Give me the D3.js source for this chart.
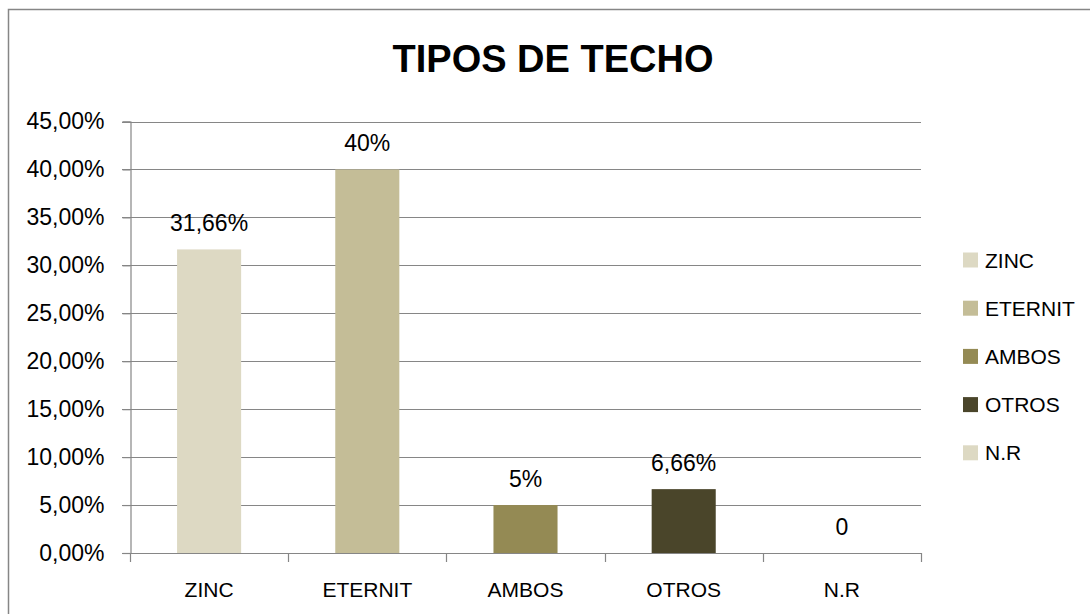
<!DOCTYPE html>
<html>
<head>
<meta charset="utf-8">
<script src="https://cdn.jsdelivr.net/npm/d3@7"></script>
<style>
  html, body { margin: 0; padding: 0; background: #fff; }
  svg { display: block; }
  text { font-family: "Liberation Sans", Arial, sans-serif; fill: #000; }
</style>
</head>
<body>
<div id="chart"></div>
<script>
// datos del gráfico
const categories = ["ZINC", "ETERNIT", "AMBOS", "OTROS", "N.R"];
const values = [0.3166, 0.40, 0.05, 0.0666, 0];
const valueLabels = ["31,66%", "40%", "5%", "6,66%", "0"];
const colors = ["#DDD9C3", "#C4BD97", "#948A54", "#4A452A", "#DDD9C3"];
const yTicks = [0, 0.05, 0.10, 0.15, 0.20, 0.25, 0.30, 0.35, 0.40, 0.45];

const width = 1090, height = 614;
const plot = {left: 130, right: 921, top: 121.5, bottom: 553};

const svg = d3.select("#chart").append("svg")
  .attr("width", width)
  .attr("height", height);

// marco exterior
svg.append("rect")
  .attr("x", 8.5).attr("y", 9.5)
  .attr("width", 1200).attr("height", 800)
  .attr("fill", "none")
  .attr("stroke", "#868686")
  .attr("stroke-width", 1.5);

// título
svg.append("text")
  .attr("x", 553).attr("y", 72)
  .attr("text-anchor", "middle")
  .attr("font-size", 38)
  .attr("font-weight", "bold")
  .text("TIPOS DE TECHO");

const locale = d3.formatLocale({decimal: ",", thousands: ".", grouping: [3], currency: ["", "€"]});
const fmt = locale.format(".2%");

const y = d3.scaleLinear().domain([0, 0.45]).range([plot.bottom, plot.top]);
const x = d3.scaleBand().domain(categories).range([plot.left, plot.right])
  .paddingInner(0.595).paddingOuter(0.2975);
const xb = d3.scaleBand().domain(categories).range([plot.left, plot.right]);

// líneas de cuadrícula
svg.append("g")
  .selectAll("line")
  .data(yTicks.slice(1))
  .join("line")
  .attr("x1", plot.left - 8).attr("x2", plot.right)
  .attr("y1", d => Math.round(y(d)) + 0.5).attr("y2", d => Math.round(y(d)) + 0.5)
  .attr("stroke", "#868686").attr("stroke-width", 1.2);

// barras
svg.append("g")
  .selectAll("rect")
  .data(categories)
  .join("rect")
  .attr("x", d => x(d))
  .attr("width", x.bandwidth())
  .attr("y", (d, i) => y(values[i]))
  .attr("height", (d, i) => y(0) - y(values[i]))
  .attr("fill", (d, i) => colors[i]);

// eje Y
const yAxis = svg.append("g")
  .attr("transform", `translate(${plot.left + 0.5},0)`)
  .call(d3.axisLeft(y).tickValues(yTicks).tickFormat(fmt).tickSize(8).tickPadding(18));
yAxis.select(".domain").attr("stroke", "#868686").attr("stroke-width", 1.2);
yAxis.selectAll(".tick line").attr("stroke", "#868686").attr("stroke-width", 1.2);
yAxis.selectAll(".tick text")
  .attr("font-size", 23)
  .attr("font-family", "'Liberation Sans', Arial, sans-serif")
  .attr("fill", "#000");

// eje X (línea base y marcas entre categorías)
const bounds = categories.map(c => xb(c)).concat([plot.right]);
svg.append("line")
  .attr("x1", plot.left - 8).attr("x2", plot.right)
  .attr("y1", plot.bottom + 0.5).attr("y2", plot.bottom + 0.5)
  .attr("stroke", "#868686").attr("stroke-width", 1.2);
svg.append("g")
  .selectAll("line")
  .data(bounds)
  .join("line")
  .attr("x1", d => Math.round(d) + 0.5).attr("x2", d => Math.round(d) + 0.5)
  .attr("y1", plot.bottom).attr("y2", plot.bottom + 9)
  .attr("stroke", "#868686").attr("stroke-width", 1.2);

svg.append("g")
  .selectAll("text")
  .data(categories)
  .join("text")
  .attr("x", d => xb(d) + xb.bandwidth() / 2)
  .attr("y", 597)
  .attr("text-anchor", "middle")
  .attr("font-size", 21)
  .text(d => d);

// etiquetas de datos
svg.append("g")
  .selectAll("text")
  .data(categories)
  .join("text")
  .attr("x", d => x(d) + x.bandwidth() / 2)
  .attr("y", (d, i) => y(values[i]) - 18)
  .attr("text-anchor", "middle")
  .attr("font-size", 23)
  .text((d, i) => valueLabels[i]);

// leyenda
const legend = svg.append("g")
  .selectAll("g")
  .data(categories)
  .join("g")
  .attr("transform", (d, i) => `translate(963,${267.5 + i * 48.2})`);
legend.append("rect")
  .attr("x", 0).attr("y", -15)
  .attr("width", 15).attr("height", 15)
  .attr("fill", (d, i) => colors[i]);
legend.append("text")
  .attr("x", 22).attr("y", 0)
  .attr("font-size", 21)
  .text(d => d);
</script>
</body>
</html>
